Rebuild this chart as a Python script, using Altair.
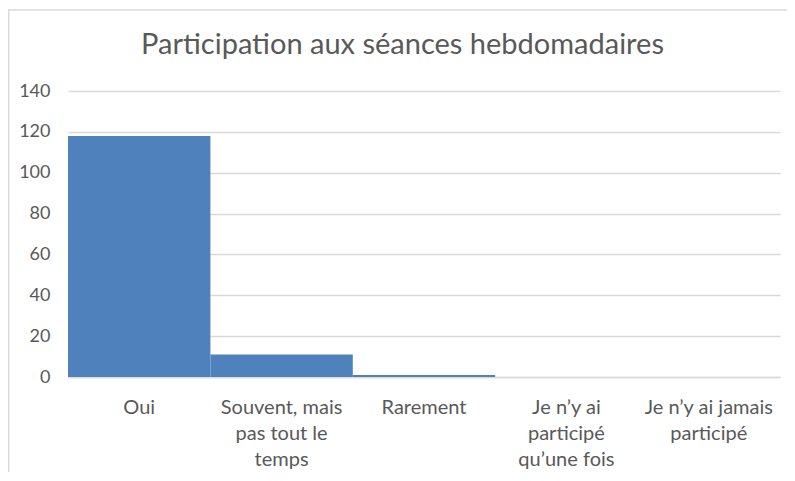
import json
import altair as alt
import pandas as pd

categories = [
    "Oui",
    "Souvent, mais pas tout le temps",
    "Rarement",
    "Je n’y ai participé qu’une fois",
    "Je n’y ai jamais participé",
]
values = [118, 11, 1, 0, 0]
label_lines = [
    ["Oui"],
    ["Souvent, mais", "pas tout le", "temps"],
    ["Rarement"],
    ["Je n’y ai", "participé", "qu’une fois"],
    ["Je n’y ai jamais", "participé"],
]
y_ticks = [0, 20, 40, 60, 80, 100, 120, 140]
title_text = "Participation aux séances hebdomadaires"

df = pd.DataFrame({"cat": categories, "val": values})
mapping = json.dumps(dict(zip(categories, label_lines)), ensure_ascii=False)
label_expr = f"{mapping}[datum.label]"

FONT = "Lato"
GRAY = "#595959"
GRID = "#d9d9d9"
W, H = 712, 286

bars = alt.Chart(df).mark_bar(color="#4f81bd").encode(
    x=alt.X(
        "cat:N",
        sort=categories,
        scale=alt.Scale(paddingInner=0, paddingOuter=0),
        axis=alt.Axis(
            title=None,
            labelAngle=0,
            labelExpr=label_expr,
            labelFont=FONT,
            labelFontSize=20,
            labelColor=GRAY,
            labelLineHeight=26,
            labelBaseline="top",
            labelPadding=20,
            labelLimit=0,
            ticks=False,
            grid=False,
            domainColor=GRID,
            domainWidth=1.5,
        ),
    ),
    y=alt.Y(
        "val:Q",
        scale=alt.Scale(domain=[0, 140]),
        axis=alt.Axis(
            title=None,
            values=y_ticks,
            domain=False,
            ticks=False,
            gridColor=GRID,
            gridWidth=1.5,
            labelFont=FONT,
            labelFontSize=18,
            labelColor=GRAY,
            labelPadding=18,
        ),
    ),
)

one_row = alt.Data(values=[{"title": title_text}])
top_border = alt.Chart(one_row).mark_rule(color=GRID, strokeWidth=1.5).encode(
    x=alt.value(-60), x2=alt.value(W + 10), y=alt.value(-81)
)
left_border = alt.Chart(one_row).mark_rule(color=GRID, strokeWidth=1.5).encode(
    x=alt.value(-59.3), y=alt.value(-81), y2=alt.value(H + 100)
)
title_mark = alt.Chart(one_row).mark_text(
    font=FONT,
    fontSize=29,
    color=GRAY,
    align="center",
    baseline="alphabetic",
).encode(
    text="title:N",
    x=alt.value(334.5),
    y=alt.value(-37),
)

chart = (
    alt.layer(bars, top_border, left_border, title_mark)
    .properties(
        width=W,
        height=H,
        autosize=alt.AutoSizeParams(type="none"),
        padding={"left": 60, "top": 83, "right": 7, "bottom": 95},
    )
    .configure_view(stroke="transparent")
)

chart.save("out.html", embed_options={"renderer": "svg", "actions": False})
